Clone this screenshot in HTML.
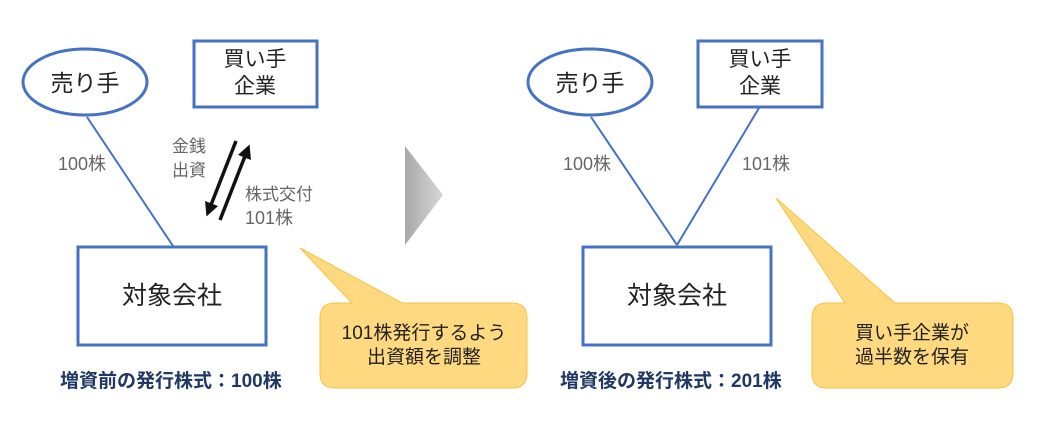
<!DOCTYPE html>
<html><head><meta charset="utf-8"><style>
html,body{margin:0;padding:0;background:#fff;}
svg text{font-family:"Liberation Sans","Noto Sans CJK JP",sans-serif;}
</style></head><body>
<svg width="1056" height="434" viewBox="0 0 1056 434" xmlns="http://www.w3.org/2000/svg">
<defs>
<linearGradient id="tg" x1="0" y1="0" x2="1" y2="0">
<stop offset="0" stop-color="#a8a8a8"/><stop offset="1" stop-color="#d8d8d8"/>
</linearGradient>
<marker id="ah" markerWidth="4" markerHeight="4" refX="2" refY="2" orient="auto" markerUnits="strokeWidth">
<path d="M0,0 L4,2 L0,4 z" fill="#111"/></marker>
</defs>
<!-- LEFT -->
<line x1="87" y1="117" x2="173" y2="246" stroke="#4472c4" stroke-width="2"/>
<ellipse cx="85" cy="82" rx="62" ry="33" fill="#fff" stroke="#4472c4" stroke-width="3"/>
<text x="85" y="91" font-size="23" text-anchor="middle" fill="#222">売り手</text>
<rect x="194" y="41" width="123" height="66" fill="#fff" stroke="#4472c4" stroke-width="3"/>
<text x="255" y="66" font-size="21" text-anchor="middle" fill="#222">買い手</text>
<text x="255" y="93" font-size="21" text-anchor="middle" fill="#222">企業</text>
<rect x="78" y="247" width="188" height="98" fill="#fff" stroke="#4472c4" stroke-width="3"/>
<text x="172" y="304" font-size="25" text-anchor="middle" fill="#222">対象会社</text>
<text x="58" y="170" font-size="18" fill="#666">100株</text>
<text x="172" y="152" font-size="17" fill="#666">金銭</text>
<text x="172" y="176" font-size="17" fill="#666">出資</text>
<text x="245" y="200" font-size="17" fill="#666">株式交付</text>
<text x="245" y="224" font-size="18" fill="#666">101株</text>
<line x1="236" y1="141" x2="209" y2="210" stroke="#111" stroke-width="3.5" marker-end="url(#ah)"/>
<line x1="220" y1="220" x2="247" y2="151" stroke="#111" stroke-width="3.5" marker-end="url(#ah)"/>
<polygon points="405,146 443,195 405,245" fill="url(#tg)"/>
<path d="M300,248 L402,303 L512,303 Q527,303 527,318 L527,373 Q527,388 512,388 L335,388 Q320,388 320,373 L320,318 Q320,303 335,303 L352,303 Z" fill="#ffd97f" stroke="#f5c242" stroke-width="1"/>
<text x="424" y="339" font-size="19" text-anchor="middle" fill="#222">101株発行するよう</text>
<text x="424" y="363" font-size="19" text-anchor="middle" fill="#222">出資額を調整</text>
<text x="60" y="387" font-size="19" font-weight="bold" fill="#1f3864">増資前の発行株式：100株</text>
<!-- RIGHT -->
<line x1="591" y1="117" x2="677" y2="245" stroke="#4472c4" stroke-width="2"/>
<line x1="759" y1="108" x2="677" y2="245" stroke="#4472c4" stroke-width="2"/>
<ellipse cx="590" cy="82" rx="62" ry="33" fill="#fff" stroke="#4472c4" stroke-width="3"/>
<text x="590" y="91" font-size="23" text-anchor="middle" fill="#222">売り手</text>
<rect x="698" y="41" width="124" height="66" fill="#fff" stroke="#4472c4" stroke-width="3"/>
<text x="760" y="66" font-size="21" text-anchor="middle" fill="#222">買い手</text>
<text x="760" y="93" font-size="21" text-anchor="middle" fill="#222">企業</text>
<rect x="583" y="247" width="188" height="98" fill="#fff" stroke="#4472c4" stroke-width="3"/>
<text x="677" y="304" font-size="25" text-anchor="middle" fill="#222">対象会社</text>
<text x="563" y="170" font-size="18" fill="#666">100株</text>
<text x="742" y="170" font-size="18" fill="#666">101株</text>
<path d="M776,198 L895,303 L998,303 Q1013,303 1013,318 L1013,373 Q1013,388 998,388 L827,388 Q812,388 812,373 L812,318 Q812,303 827,303 L845,303 Z" fill="#ffd97f" stroke="#f5c242" stroke-width="1"/>
<text x="912" y="339" font-size="19" text-anchor="middle" fill="#222">買い手企業が</text>
<text x="912" y="363" font-size="19" text-anchor="middle" fill="#222">過半数を保有</text>
<text x="560" y="387" font-size="19" font-weight="bold" fill="#1f3864">増資後の発行株式：201株</text>
</svg>
</body></html>
